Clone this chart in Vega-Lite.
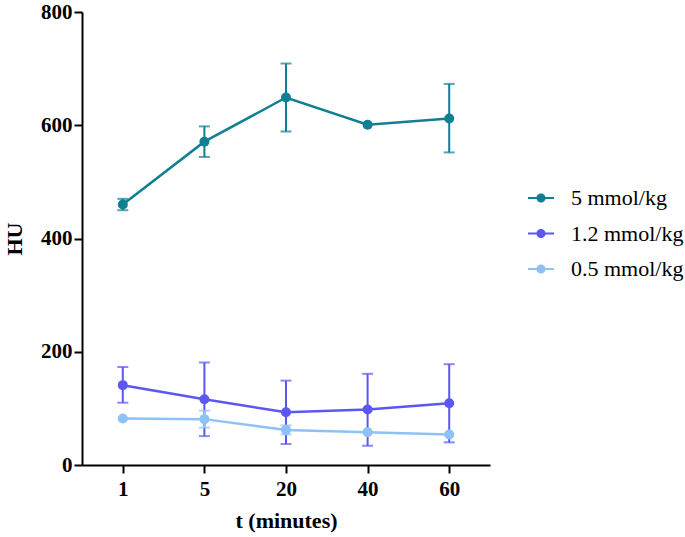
{
  "$schema": "https://vega.github.io/schema/vega-lite/v6.json",
  "autosize": {"type": "none"},
  "padding": {"left": 82, "top": 12, "right": 195, "bottom": 72},
  "width": 408,
  "height": 453,
  "background": "white",
  "config": {
    "view": {"stroke": null},
    "font": "Liberation Serif",
    "axis": {
      "domainColor": "black", "domainWidth": 2, "tickColor": "black", "tickWidth": 2, "tickSize": 8,
      "labelFont": "Liberation Serif", "labelFontSize": 21, "labelFontWeight": "bold", "labelColor": "black",
      "titleFont": "Liberation Serif", "titleFontSize": 22, "titleFontWeight": "bold", "titleColor": "black",
      "grid": false
    }
  },
  "data": {
    "values": [
      {"t": "1", "series": "5 mmol/kg", "mean": 460, "lo": 450, "hi": 470},
      {"t": "5", "series": "5 mmol/kg", "mean": 571, "lo": 544, "hi": 598},
      {"t": "20", "series": "5 mmol/kg", "mean": 649, "lo": 589, "hi": 709},
      {"t": "40", "series": "5 mmol/kg", "mean": 601, "lo": null, "hi": null},
      {"t": "60", "series": "5 mmol/kg", "mean": 612, "lo": 552, "hi": 673},
      {"t": "1", "series": "1.2 mmol/kg", "mean": 141, "lo": 110, "hi": 173},
      {"t": "5", "series": "1.2 mmol/kg", "mean": 116, "lo": 51, "hi": 181},
      {"t": "20", "series": "1.2 mmol/kg", "mean": 93, "lo": 37, "hi": 149},
      {"t": "40", "series": "1.2 mmol/kg", "mean": 98, "lo": 34, "hi": 161},
      {"t": "60", "series": "1.2 mmol/kg", "mean": 109, "lo": 40, "hi": 178},
      {"t": "1", "series": "0.5 mmol/kg", "mean": 82, "lo": null, "hi": null},
      {"t": "5", "series": "0.5 mmol/kg", "mean": 81, "lo": 66, "hi": 96},
      {"t": "20", "series": "0.5 mmol/kg", "mean": 62, "lo": 54, "hi": 70},
      {"t": "40", "series": "0.5 mmol/kg", "mean": 58, "lo": null, "hi": null},
      {"t": "60", "series": "0.5 mmol/kg", "mean": 54, "lo": null, "hi": null}
    ]
  },
  "encoding": {
    "x": {
      "field": "t", "type": "ordinal", "sort": ["1", "5", "20", "40", "60"],
      "scale": {"type": "point", "padding": 0.5},
      "axis": {"title": "t (minutes)", "labelAngle": 0, "labelPadding": 5, "titlePadding": 11}
    },
    "color": {
      "field": "series", "type": "nominal",
      "scale": {"domain": ["5 mmol/kg", "1.2 mmol/kg", "0.5 mmol/kg"], "range": ["#0f7f92", "#5a57f3", "#8ec1f6"]},
      "legend": {
        "title": null, "orient": "none", "legendX": 446, "legendY": 173,
        "symbolType": "M-1,-0.08L1,-0.08L1,0.08L-1,0.08Z M0.35,0A0.35,0.35 0 1,1 -0.35,0A0.35,0.35 0 1,1 0.35,0Z",
        "symbolSize": 676, "symbolStrokeWidth": 0, "symbolOpacity": 1,
        "labelFont": "Liberation Serif", "labelFontSize": 22, "labelColor": "black", "labelOffset": 17,
        "rowPadding": 11.5, "labelLimit": 200
      }
    }
  },
  "layer": [
    {
      "transform": [{"filter": "datum.lo != null"}],
      "mark": {"type": "rule", "strokeWidth": 2},
      "encoding": {"y": {"field": "lo", "type": "quantitative"}, "y2": {"field": "hi"}}
    },
    {
      "transform": [{"filter": "datum.lo != null"}],
      "mark": {"type": "tick", "orient": "horizontal", "size": 11, "thickness": 2},
      "encoding": {"y": {"field": "lo", "type": "quantitative"}}
    },
    {
      "transform": [{"filter": "datum.hi != null"}],
      "mark": {"type": "tick", "orient": "horizontal", "size": 11, "thickness": 2},
      "encoding": {"y": {"field": "hi", "type": "quantitative"}}
    },
    {
      "mark": {"type": "line", "strokeWidth": 2.5},
      "encoding": {
        "y": {
          "field": "mean", "type": "quantitative",
          "scale": {"domain": [0, 800], "nice": false},
          "axis": {"title": "HU", "values": [0, 200, 400, 600, 800], "titlePadding": 14, "labelPadding": 2}
        }
      }
    },
    {
      "mark": {"type": "point", "filled": true, "size": 100, "opacity": 1},
      "encoding": {"y": {"field": "mean", "type": "quantitative"}}
    }
  ]
}
